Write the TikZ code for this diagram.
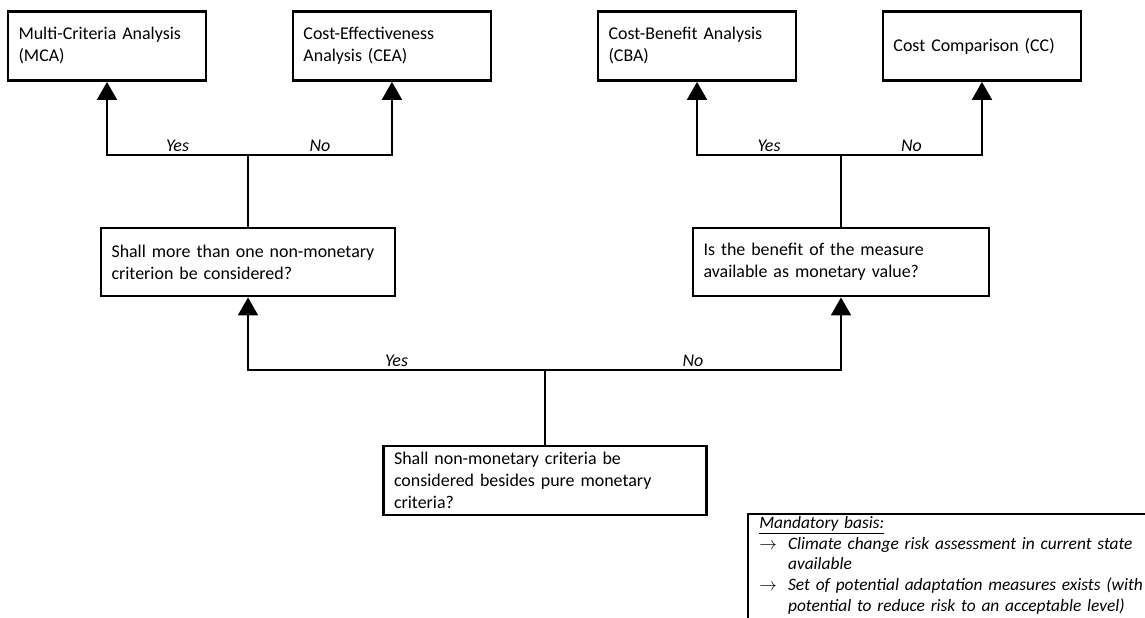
\documentclass[tikz,border=0pt]{standalone}
\usepackage{fontspec}
\setmainfont{Carlito}
\usetikzlibrary{arrows.meta,positioning,calc}
\tikzset{
    block/.style = {draw, rectangle, line width=1.6pt,
        minimum height=1.38cm, text width=3.54cm,
        inner xsep=0.21cm, align=left,
        font=\fontsize{10.2}{12.5}\selectfont},
    line/.style = {draw, line width=1.1pt},
    arrow/.style = {draw, line width=1.1pt, -{Triangle[width=0.4cm,length=0.36cm]}},
    answer/.style = {font=\fontsize{10.2}{12.5}\selectfont\itshape, inner sep=1.5pt},
    basis/.style = {anchor=north west, align=left, text width=9cm,
        inner xsep=0.22cm, inner ysep=0.04cm,
        font=\fontsize{9.9}{11.8}\selectfont\itshape}
}
\newcommand{\basisitem}{\makebox[1.65em][l]{$\rightarrow$}}

\begin{document}
\begin{tikzpicture}[x=0.02cm, y=-0.02cm]
    \useasboundingbox (0,0) rectangle (1145,618);
    \node [block, text width=6.04cm, inner ysep=1pt] (nonmon) at (545,480.5) {Shall non-monetary criteria be\\considered besides pure monetary\\criteria?};
    \node [block, text width=5.46cm, minimum height=1.36cm] (morecrit) at (248,262) {Shall more than one non-monetary\\criterion be considered?};
    \node [block, text width=5.5cm, minimum height=1.36cm] (benefit) at (841,262) {Is the benefit of the measure\\available as monetary value?};
    \node [block] (mca) at (107,46) {Multi-Criteria Analysis\\(MCA)};
    \node [block, right of=mca, node distance=5.7cm] (cea) {Cost-Effectiveness\\Analysis (CEA)};
    \node [block] (cba) at (697,46) {Cost-Benefit Analysis\\(CBA)};
    \node [block, right of=cba, node distance=5.7cm] (cc) {Cost Comparison (CC)};

    \coordinate (split) at (nonmon.north |- 0,370);
    \coordinate (splitL) at (morecrit.north |- 0,155);
    \coordinate (splitR) at (benefit.north |- 0,155);

    \draw [line] (nonmon.north) -- (split);
    \draw [arrow] (split) -| node [answer, above, pos=0.25] {Yes} (morecrit.south);
    \draw [arrow] (split) -| node [answer, above, pos=0.25] {No} (benefit.south);
    \draw [line] (morecrit.north) -- (splitL);
    \draw [arrow] (splitL) -| node [answer, above, pos=0.25] {Yes} (mca.south);
    \draw [arrow] (splitL) -| node [answer, above, pos=0.25] {No} (cea.south);
    \draw [line] (benefit.north) -- (splitR);
    \draw [arrow] (splitR) -| node [answer, above, pos=0.25] {Yes} (cba.south);
    \draw [arrow] (splitR) -| node [answer, above, pos=0.25] {No} (cc.south);

    % mandatory basis, cut at the page edge
    \node [basis] (mandatory) at (748,514) {\underline{Mandatory basis:}\\
        \basisitem Climate change risk assessment in current state\\
        \hspace*{1.65em}available\\
        \basisitem Set of potential adaptation measures exists (with\\
        \hspace*{1.65em}potential to reduce risk to an acceptable level)};
    \coordinate (pageend) at (mandatory.north west |- 0,625);
    \draw [line width=0.8pt] (pageend) |- (mandatory.north east);
\end{tikzpicture}
\end{document}
